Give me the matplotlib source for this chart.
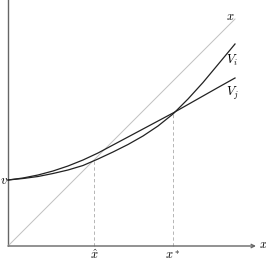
import matplotlib
matplotlib.use("Agg")
import matplotlib.pyplot as plt

plt.rcParams['mathtext.fontset'] = 'cm'

# values (data units ~ pixels from the origin)
xs = [0, 15, 30, 45, 60, 75, 90, 105, 120, 135, 150, 165, 180, 195, 210, 227]
V_i = [66, 67.5, 69.5, 72.5, 76, 80.5, 87, 94, 101.5, 110, 120, 132, 147, 163.5, 181.5, 202]
V_j = [66, 68, 71, 75, 80, 86, 93, 101, 109, 117, 125, 133, 141.5, 150, 158.5, 168]
diag = [0, 227]
v0 = 66
x_hat = 86
x_star = 165
v_star = 132.5

fig = plt.figure(figsize=(2.66, 2.62), dpi=100)
ax = fig.add_axes([0, 0, 1, 1])
ax.set_xlim(-8, 258)
ax.set_ylim(-16, 246)
ax.axis('off')

axcol = '#666666'
# axes with arrow on x
ax.plot([0, 0], [0, 250], color=axcol, lw=1.0, solid_capstyle='butt')
ax.annotate('', xy=(248, 0), xytext=(0, 0),
            arrowprops=dict(arrowstyle='->', color=axcol, lw=1.0,
                            shrinkA=0, shrinkB=0, mutation_scale=6))

# 45 degree line
ax.plot(diag, diag, color='#c0c0c0', lw=0.7)

# dashed guides
ax.plot([x_hat, x_hat], [0, x_hat], color='#aaaaaa', lw=0.6, ls=(0, (4, 3)))
ax.plot([x_star, x_star], [0, v_star], color='#aaaaaa', lw=0.6, ls=(0, (4, 3)))

ax.plot(xs, V_i, color='#222222', lw=0.9)
ax.plot(xs, V_j, color='#222222', lw=0.9)

fs = 9
ax.text(255, 1, r'$x$', fontsize=fs, ha='center', va='center')
ax.text(x_hat, -9.5, r'$\hat{x}$', fontsize=fs, ha='center', va='center')
ax.text(x_star, -9.5, r'$x^*$', fontsize=fs, ha='center', va='center')
ax.text(-4.3, v0, r'$v$', fontsize=fs, ha='center', va='center')
ax.text(222, 229, r'$x$', fontsize=fs, ha='center', va='center')
ax.text(224, 186, r'$V_i$', fontsize=fs, ha='center', va='center')
ax.text(224, 153, r'$V_j$', fontsize=fs, ha='center', va='center')

fig.savefig('out.png', dpi=100)
